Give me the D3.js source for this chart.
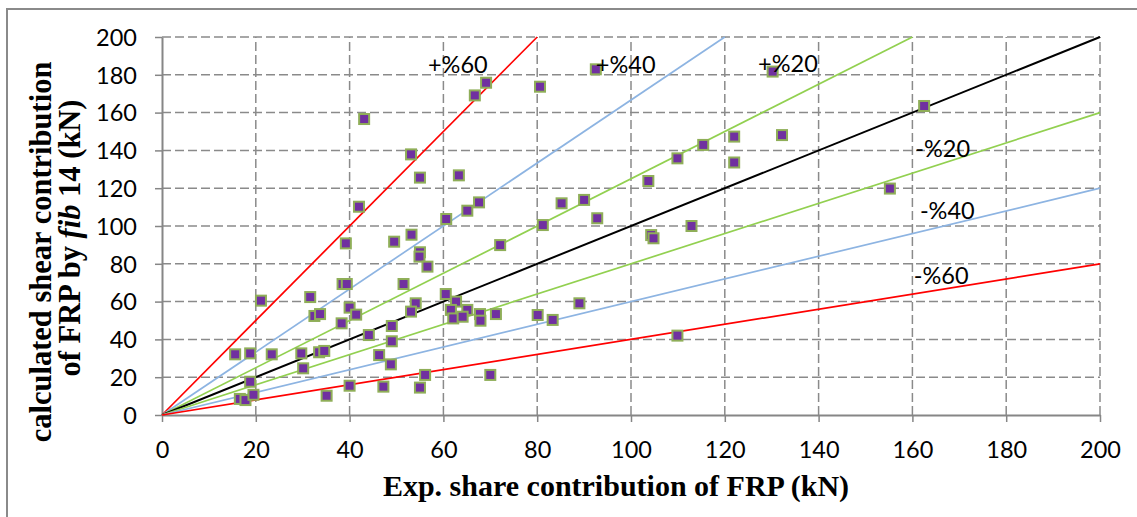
<!DOCTYPE html>
<html>
<head>
<meta charset="utf-8">
<script src="https://cdn.jsdelivr.net/npm/d3@7/dist/d3.min.js"></script>
<style>
  html, body { margin: 0; padding: 0; background: #fff; }
  svg { display: block; }
</style>
</head>
<body>
<svg id="chart" width="1137" height="517"></svg>
<script>
// Experimental FRP shear contribution (kN)
const expShear = [
  162.5, 130.2, 92.5, 80.6, 69.1, 66.7, 43.1, 53.1, 63.3, 55.0,
  42.0, 132.2, 122.0, 115.4, 109.9, 122.0, 103.7, 155.2, 67.6, 65.1,
  60.6, 85.2, 90.0, 92.8, 81.2, 112.9, 104.3, 104.8, 53.2, 49.5,
  39.2, 72.1, 55.0, 54.9, 56.6, 38.5, 39.4, 51.5, 21.1, 31.6,
  32.5, 33.7, 40.0, 41.4, 38.3, 49.0, 44.1, 49.0, 60.5, 62.7,
  61.6, 65.1, 62.1, 64.1, 67.8, 67.9, 71.2, 80.1, 83.3, 89.0,
  54.1, 53.1, 15.6, 18.8, 23.4, 29.7, 30.1, 33.5, 34.6, 46.3,
  48.8, 18.8, 16.6, 17.8, 19.5, 35.1, 40.0, 47.2, 56.1, 55.0,
  70.0, 109.9
];
// Calculated FRP shear contribution by fib 14 (kN)
const fibShear = [
  163.5, 181.7, 182.9, 173.7, 175.8, 169.1, 156.6, 137.9, 126.8, 125.6,
  110.2, 148.1, 147.3, 142.9, 135.8, 133.6, 123.8, 119.8, 112.5, 108.1,
  103.7, 112.0, 113.8, 104.1, 100.5, 100.0, 95.2, 93.5, 95.4, 91.7,
  90.8, 89.9, 86.1, 83.8, 78.5, 69.3, 69.3, 69.3, 60.5, 62.4,
  52.4, 53.4, 56.8, 53.1, 48.5, 47.1, 42.3, 39.0, 64.0, 60.0,
  55.6, 55.6, 51.1, 52.0, 53.4, 49.9, 53.4, 52.9, 50.3, 59.1,
  59.1, 54.7, 32.1, 32.6, 32.1, 32.6, 24.7, 33.2, 33.9, 31.7,
  26.8, 17.6, 8.5, 7.9, 10.7, 10.2, 15.5, 15.0, 21.2, 14.5,
  21.2, 42.0
];

// Error bands: calculated = factor * experimental
const bandNames   = ["+%60", "+%40", "+%20", "", "-%20", "-%40", "-%60"];
const bandFactors = [2.5, 5 / 3, 1.25, 1, 0.8, 0.6, 0.4];

const xTicks = [0, 20, 40, 60, 80, 100, 120, 140, 160, 180, 200];
const yTicks = [0, 20, 40, 60, 80, 100, 120, 140, 160, 180, 200];

// ---- layout and styling ----
const bandColors = ["#ff0000", "#8db4e2", "#92d050", "#000000", "#92d050", "#8db4e2", "#ff0000"];
// where each band caption sits (left edge, baseline) in axis units
const bandLabelAt = [
  [56.7, 181.0], [92.5, 181.0], [127.1, 181.5], null,
  [160.6, 136.5], [161.6, 103.7], [160.3, 69.3]
];

const svg = d3.select("#chart");
const W = 1137, H = 517;
const plot = { left: 162, right: 1100, top: 37, bottom: 415 };

svg.append("rect").attr("width", W).attr("height", H).attr("fill", "#fff");
// outer frame
svg.append("rect")
  .attr("x", 7).attr("y", 9).attr("width", W + 20).attr("height", H + 20)
  .attr("fill", "none").attr("stroke", "#8a8a8a").attr("stroke-width", 2);

const x = d3.scaleLinear().domain([0, 200]).range([plot.left, plot.right]);
const y = d3.scaleLinear().domain([0, 200]).range([plot.bottom, plot.top]);

const gridColor = "#8a8a8a";
const grid = svg.append("g");
grid.selectAll("line.h").data(yTicks.filter(d => d > 0)).join("line")
  .attr("x1", x(0)).attr("x2", x(200))
  .attr("y1", d => y(d)).attr("y2", d => y(d))
  .attr("stroke", gridColor).attr("stroke-width", 1.5).attr("stroke-dasharray", "9,4");
grid.selectAll("line.v").data(xTicks.filter(d => d > 0)).join("line")
  .attr("y1", y(0)).attr("y2", y(200))
  .attr("x1", d => x(d)).attr("x2", d => x(d))
  .attr("stroke", gridColor).attr("stroke-width", 1.5).attr("stroke-dasharray", "9,4");

// axes
const tickFont = "Lato, 'Open Sans', sans-serif";
const xAxis = svg.append("g").attr("transform", `translate(0,${y(0)})`)
  .call(d3.axisBottom(x).tickValues(xTicks).tickSize(7).tickSizeOuter(0));
const yAxis = svg.append("g").attr("transform", `translate(${x(0)},0)`)
  .call(d3.axisLeft(y).tickValues(yTicks).tickSize(7).tickSizeOuter(0));
[xAxis, yAxis].forEach(g => {
  g.select(".domain").attr("stroke", "#868686").attr("stroke-width", 2);
  g.selectAll(".tick line").attr("stroke", "#868686").attr("stroke-width", 1.5);
  g.selectAll(".tick text").attr("fill", "#000")
    .style("font-family", tickFont).style("font-size", "23.5px");
});
xAxis.selectAll(".tick text").attr("dy", "0.71em").attr("y", 26);
yAxis.selectAll(".tick text").attr("x", -25).attr("dy", "0.35em");

// band lines through the origin
const bands = bandFactors.map((f, i) => {
  const xEnd = Math.min(200, 200 / f);
  return { name: bandNames[i], color: bandColors[i], pts: [[0, 0], [xEnd, f * xEnd]], at: bandLabelAt[i] };
});
const line = d3.line().x(d => x(d[0])).y(d => y(d[1]));
svg.append("g").selectAll("path").data(bands).join("path")
  .attr("d", d => line(d.pts))
  .attr("fill", "none")
  .attr("stroke", d => d.color)
  .attr("stroke-width", d => d.color === "#000000" ? 2 : 1.7);

// test points
const pts = expShear.map((v, i) => [v, fibShear[i]]);
const ms = 10;
svg.append("g").selectAll("rect").data(pts).join("rect")
  .attr("x", d => x(d[0]) - ms / 2).attr("y", d => y(d[1]) - ms / 2)
  .attr("width", ms).attr("height", ms)
  .attr("fill", "#7030a0").attr("stroke", "#8fae58").attr("stroke-width", 2);

// band captions
svg.append("g").selectAll("text").data(bands.filter(b => b.at)).join("text")
  .attr("x", d => x(d.at[0])).attr("y", d => y(d.at[1]))
  .style("font-family", tickFont).style("font-size", "23.5px")
  .attr("fill", "#000")
  .text(d => d.name);

// axis titles
const serif = "'Liberation Serif', 'Times New Roman', serif";
svg.append("text")
  .attr("x", 616).attr("y", 496).attr("text-anchor", "middle")
  .style("font-family", serif)
  .style("font-weight", "bold").style("font-size", "30px")
  .text("Exp. share contribution of FRP (kN)");

const yTitle = svg.append("g").style("font-family", serif)
  .style("font-weight", "bold").style("font-size", "30.5px");
yTitle.append("text")
  .attr("transform", "translate(51,252) rotate(-90)").attr("text-anchor", "middle")
  .text("calculated shear contribution");
const t2 = yTitle.append("text")
  .attr("transform", "translate(80,238) rotate(-90)").attr("text-anchor", "middle");
t2.append("tspan").text("of FRP by ");
t2.append("tspan").style("font-style", "italic").text("fib");
t2.append("tspan").text(" 14 (kN)");
</script>
</body>
</html>
